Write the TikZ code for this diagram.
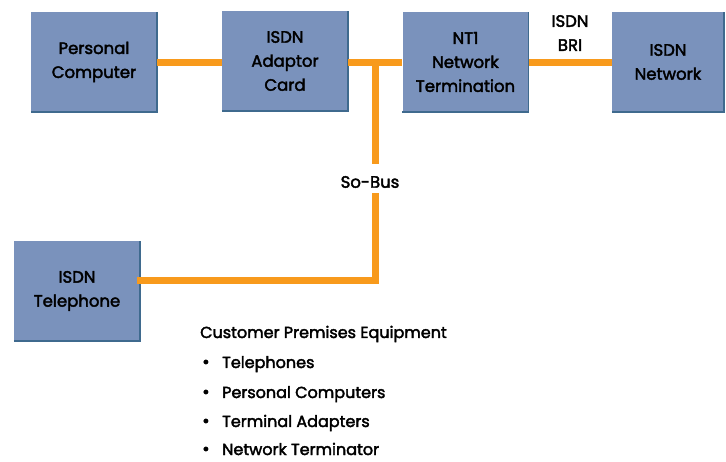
\documentclass[tikz,border=0pt]{standalone}
\usepackage{fontspec}
\setmainfont{Poppins}[FakeBold=2.4]
\definecolor{boxfill}{HTML}{7A92BC}
\definecolor{boxedge}{HTML}{3F6A8E}
\definecolor{wire}{HTML}{F89A1C}
\begin{document}
\begin{tikzpicture}[x=1pt,y=-1pt,
  dev/.style={fill=boxfill, minimum width=126pt, minimum height=100pt, inner sep=0pt,
    align=center, font=\fontsize{16.5}{24}\selectfont, text=black},
  wireline/.style={wire, line width=7pt},
  lbl/.style={font=\fontsize{16.5}{24}\selectfont, align=center, inner sep=1pt},
  item/.style={font=\fontsize{16}{20}\selectfont, anchor=base west, inner sep=0pt}]
\useasboundingbox (0,0) rectangle (726,462);
\node[dev] (pc) at (94,62) {Personal\\Computer};
\node[dev] (ta) at (285,61) {ISDN\\Adaptor\\Card};
\node[dev] (nt) at (465.5,62) {NT1\\Network\\Termination};
\node[dev, minimum width=112pt] (net) at (668,62) {ISDN\\Network};
\node[dev] (tel) at (77,291) {ISDN\\Telephone};
\foreach \n in {pc,ta,nt,net,tel}{
  \draw[boxedge, line width=1.5pt] (\n.south west) -- (\n.south east) -- (\n.north east);
}
\coordinate (j) at (375,63);
\coordinate (k) at (375,281);
\node[lbl] (sobus) at (370,182) {So-Bus};
\coordinate (g1) at (375,164);
\coordinate (g2) at (375,197);
\node[lbl] (bri) at (570,33) {ISDN\\BRI};
\draw[wireline] (pc.east |- 0,63) -- (ta.west |- 0,63);
\draw[wireline] (ta.east |- 0,63) -- (nt.west |- 0,63);
\draw[wireline] (nt.east |- 0,63) -- (net.west |- 0,63);
\draw[wireline] (j) -- (g1);
\draw[wireline, line cap=rect] (g2) -- (k) -- (tel.east |- k);
\node[item] (cpe) at (200,338) {Customer Premises Equipment};
\foreach \t/\yy [count=\i] in {Telephones/368, Personal Computers/398, Terminal Adapters/427, Network Terminator/455}{
  \node[item, font=\fontsize{18}{20}\selectfont] (b\i) at (202,\yy) {•};
  \node[item] (i\i) at (222,\yy) {\t};
}
\end{tikzpicture}
\end{document}
